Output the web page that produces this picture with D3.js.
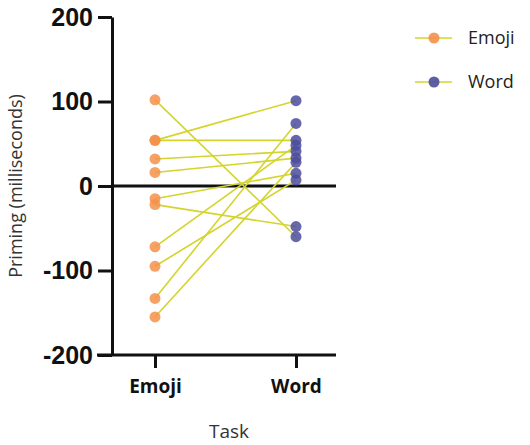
<!DOCTYPE html>
<html>
<head>
<meta charset="utf-8">
<script src="https://cdn.jsdelivr.net/npm/d3@7"></script>
<style>
  html, body { margin: 0; padding: 0; background: #fff; }
  svg { display: block; }
</style>
</head>
<body>
<svg id="chart" width="530" height="445"></svg>
<script>
// Paired priming scores (ms) per participant, Emoji task vs Word task
const tasks = ["Emoji", "Word"];
const emojiPriming = [102, 54, 54, 32, 16, -15, -22, -72, -95, -133, -155];
const wordPriming  = [-60, 101, 54, 41, 33, 15, -48, 48, 7, 74, 28];
const yTicks = [-200, -100, 0, 100, 200];
const legendItems = ["Emoji", "Word"];

const colors = { Emoji: "#F4904A", Word: "#4C4C9E" };
const lineColor = "#D4D42C";

const svg = d3.select("#chart");

const y = d3.scaleLinear().domain([-200, 200]).range([355, 17]);
const x = d3.scalePoint().domain(tasks).range([155, 296]);
const axisX0 = 112, axisX1 = 336;

// y axis (plain hyphen for negative labels)
const yAxis = svg.append("g")
  .attr("transform", `translate(${axisX0},0)`)
  .call(d3.axisLeft(y).tickValues(yTicks).tickFormat(d => String(d))
    .tickSize(14).tickSizeOuter(0).tickPadding(5));
yAxis.select(".domain").attr("stroke", "#111").attr("stroke-width", 3);
yAxis.selectAll(".tick line").attr("stroke", "#111").attr("stroke-width", 3);
yAxis.selectAll(".tick text")
  .attr("fill", "#111")
  .style("font-family", "'Liberation Sans', Arial, sans-serif")
  .style("font-weight", "bold")
  .style("font-size", "25px");

// x axis
const xAxis = svg.append("g")
  .attr("transform", `translate(0,${y(-200)})`)
  .call(d3.axisBottom(x).tickSize(13).tickSizeOuter(0).tickPadding(12));
xAxis.select(".domain").remove();
xAxis.selectAll(".tick line").attr("stroke", "#111").attr("stroke-width", 3);
xAxis.selectAll(".tick text")
  .attr("fill", "#111")
  .style("font-family", "'Open Sans', sans-serif")
  .style("font-weight", "bold")
  .style("font-size", "19px");
svg.append("line")
  .attr("x1", 97).attr("x2", axisX1)
  .attr("y1", y(-200)).attr("y2", y(-200))
  .attr("stroke", "#111").attr("stroke-width", 3);

// zero reference line
svg.append("line")
  .attr("x1", axisX0).attr("x2", axisX1)
  .attr("y1", y(0)).attr("y2", y(0))
  .attr("stroke", "#111").attr("stroke-width", 3);

// axis titles
svg.append("text")
  .attr("transform", `translate(22,${y(0)}) rotate(-90)`)
  .attr("text-anchor", "middle")
  .attr("fill", "#333")
  .style("font-family", "'Open Sans', sans-serif")
  .style("font-size", "18px")
  .text("Priming (milliseconds)");
svg.append("text")
  .attr("x", 229).attr("y", 438)
  .attr("text-anchor", "middle")
  .attr("fill", "#333")
  .style("font-family", "'Open Sans', sans-serif")
  .style("font-size", "19px")
  .text("Task");

// paired lines
const pairs = emojiPriming.map((e, i) => ({ emoji: e, word: wordPriming[i] }));
svg.append("g").selectAll("line")
  .data(pairs)
  .join("line")
  .attr("x1", x("Emoji")).attr("y1", d => y(d.emoji))
  .attr("x2", x("Word")).attr("y2", d => y(d.word))
  .attr("stroke", lineColor).attr("stroke-width", 1.6);

// points
svg.append("g").selectAll("circle")
  .data(emojiPriming)
  .join("circle")
  .attr("cx", x("Emoji")).attr("cy", d => y(d))
  .attr("r", 5.5)
  .attr("fill", colors.Emoji).attr("fill-opacity", 0.85);
svg.append("g").selectAll("circle")
  .data(wordPriming)
  .join("circle")
  .attr("cx", x("Word")).attr("cy", d => y(d))
  .attr("r", 5.5)
  .attr("fill", colors.Word).attr("fill-opacity", 0.85);

// legend
const legend = svg.append("g").selectAll("g")
  .data(legendItems)
  .join("g")
  .attr("transform", (d, i) => `translate(0,${38 + i * 44})`);
legend.append("line")
  .attr("x1", 415).attr("x2", 452).attr("y1", 0).attr("y2", 0)
  .attr("stroke", lineColor).attr("stroke-width", 1.6);
legend.append("circle")
  .attr("cx", 434).attr("cy", 0).attr("r", 5.5)
  .attr("fill", d => colors[d]).attr("fill-opacity", 0.9);
legend.append("text")
  .attr("x", 468).attr("y", 0).attr("dy", "0.35em")
  .attr("fill", "#222")
  .style("font-family", "'Open Sans', sans-serif")
  .style("font-size", "18px")
  .text(d => d);
</script>
</body>
</html>
